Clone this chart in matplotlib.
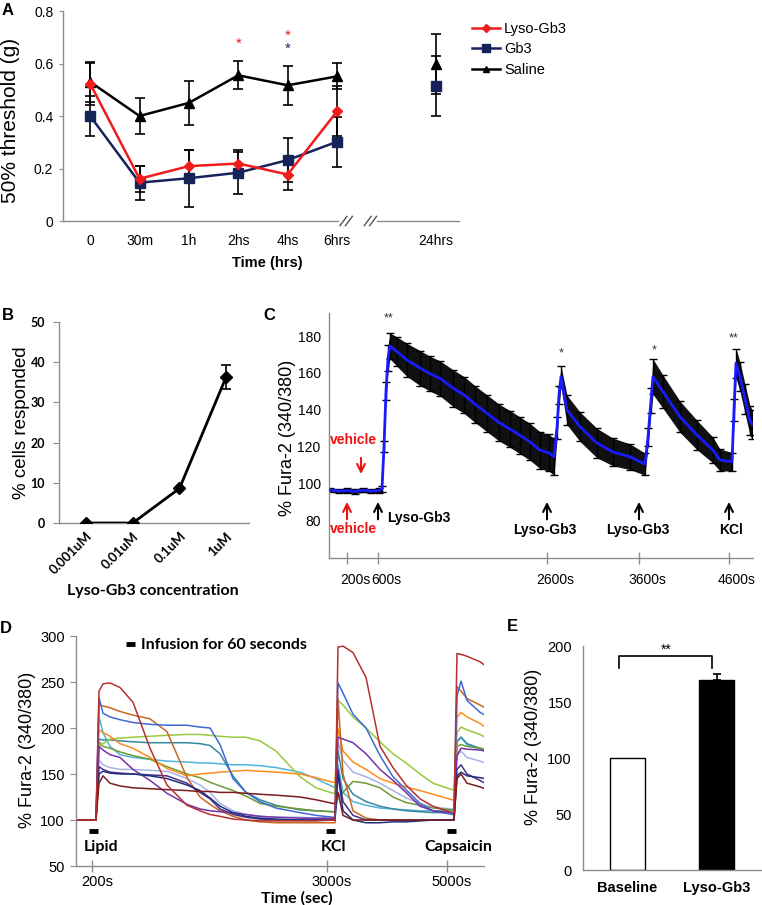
import matplotlib
matplotlib.use("Agg")
import matplotlib.pyplot as plt
from matplotlib.lines import Line2D
from matplotlib.transforms import ScaledTranslation

plt.rcParams['font.family'] = ['Liberation Sans', 'DejaVu Sans']
CAL = ['Lato', 'DejaVu Sans']   # stands in for Calibri

# ---------------- data ----------------
# A: von Frey thresholds
time_labels = ['0', '30m', '1h', '2hs', '4hs', '6hrs', '24hrs']
time_pos = [0, 1, 2, 3, 4, 5, 7]
lyso_mean = [0.523, 0.161, 0.209, 0.219, 0.177, 0.418]
lyso_err = [0.08, 0.05, 0.06, 0.05, 0.057, 0.095]
gb3_mean = [0.40, 0.146, 0.163, 0.184, 0.232, 0.302, 0.514]
gb3_err = [0.077, 0.065, 0.108, 0.08, 0.085, 0.095, 0.115]
saline_mean = [0.53, 0.40, 0.45, 0.555, 0.517, 0.551, 0.598]
saline_err = [0.075, 0.07, 0.085, 0.053, 0.074, 0.05, 0.115]

# B: responders vs concentration
conc_labels = ['0.001uM', '0.01uM', '0.1uM', '1uM']
resp_mean = [0, 0, 8.6, 36.3]
resp_err_last = 2.9

# C: mean Fura-2 trace (frame index) with SEM
c_frames = [1, 10, 18, 26, 34, 42, 50, 53, 55, 57, 59, 61, 68, 78, 91, 101, 111, 124, 135, 146,
            158, 170, 181, 191, 201, 211, 220, 225, 228, 230, 232, 238, 251, 268, 284, 301, 316, 319, 322, 324,
            334, 351, 368, 384, 391, 403, 405, 407, 411, 416, 421, 423]
c_mean = [96.3, 95.8, 96.0, 95.6, 96.2, 95.8, 96.0, 97.0, 120, 150, 168, 174.6, 171.5, 167, 162.6, 159.5, 157, 151.7, 148, 143,
          138, 133, 129.5, 126, 122.5, 118, 116.5, 114.4, 130, 148, 157.9, 139.8, 130.7, 121.8, 117, 114.4, 110.4, 125, 145, 157.9,
          149.7, 136.1, 126.2, 118, 112.6, 111.7, 140, 165.2, 157.9, 145.9, 134.1, 132]
c_err = [1.2, 1.2, 1.2, 1.2, 1.2, 1.2, 1.2, 1.5, 3, 5, 7, 7, 8, 9, 9.5, 9.5, 9.5, 10, 10, 10,
         10, 10, 10, 10, 10, 10, 10, 10, 6, 5, 5.8, 8, 8, 8, 7.5, 7, 6, 5, 7, 9.6,
         9, 8.5, 8, 7, 6, 5, 6, 8, 8, 8, 8, 8]
c_tick_frames = [18, 49, 218, 310, 400]
c_tick_labels = ['200s', '600s', '2600s', '3600s', '4600s']

# D: single-cell traces (frame index)
d_frames = [0, 20, 23, 27, 34, 44, 57, 74, 91, 111, 124, 134, 144, 157, 170, 184, 200, 224, 240, 257,
            259, 262, 267, 277, 290, 304, 317, 330, 344, 357, 376, 378, 381, 385, 391, 404, 409]
cell_lavender = [100, 100, 165, 160, 157, 155, 155, 154, 153, 145, 138, 130, 118, 110, 106, 104, 103, 103, 102, 102,
                 102, 185, 165, 152, 147, 140, 132, 124, 118, 114, 112, 112, 170, 175, 168, 164, 162]
cell_sky = [100, 100, 212, 195, 180, 171, 168, 166, 164, 163, 162, 162, 161, 160, 160, 159, 157, 152, 145, 136,
            136, 160, 130, 120, 116, 113, 112, 111, 110, 110, 110, 110, 185, 190, 182, 177, 175]
cell_teal = [100, 100, 188, 187, 187, 186, 185, 184, 184, 184, 183, 181, 172, 148, 130, 122, 116, 111, 110, 109,
             109, 175, 145, 128, 120, 115, 112, 110, 109, 108, 108, 108, 185, 190, 183, 178, 176]
cell_olive = [100, 100, 185, 180, 178, 174, 170, 166, 158, 150, 146, 141, 137, 132, 126, 118, 115, 112, 110, 109,
              109, 125, 130, 142, 140, 135, 125, 119, 116, 113, 111, 111, 180, 182, 180, 178, 177]
cell_lime = [100, 100, 180, 183, 188, 189, 190, 191, 192, 193, 193, 192, 191, 190, 190, 186, 175, 147, 135, 129,
             129, 230, 225, 212, 200, 185, 172, 162, 150, 140, 133, 133, 195, 201, 198, 193, 190]
cell_orange = [100, 100, 198, 195, 191, 183, 178, 168, 156, 148, 150, 151, 152, 153, 154, 153, 152, 150, 146, 141,
               141, 200, 175, 163, 155, 145, 140, 136, 132, 128, 122, 122, 212, 217, 212, 205, 201]
cell_brown = [100, 100, 225, 224, 222, 218, 214, 210, 196, 146, 125, 117, 110, 104, 100, 98, 97, 97, 97, 97,
              97, 232, 150, 110, 102, 100, 100, 100, 100, 100, 100, 100, 245, 240, 232, 225, 222]
cell_blue = [100, 100, 233, 216, 212, 209, 206, 204, 203, 203, 201, 200, 182, 145, 130, 120, 113, 108, 105, 103,
             103, 249, 238, 215, 200, 170, 147, 133, 118, 110, 106, 106, 235, 251, 230, 217, 214]
cell_purple = [100, 100, 180, 176, 171, 168, 155, 143, 129, 117, 112, 110, 109, 108, 106, 104, 103, 102, 102, 102,
               102, 190, 188, 184, 172, 155, 143, 130, 115, 110, 108, 108, 170, 178, 177, 176, 175]
cell_indigo = [100, 100, 158, 155, 152, 151, 150, 149, 148, 140, 130, 123, 112, 106, 103, 101, 100, 100, 100, 100,
               100, 155, 120, 105, 100, 100, 100, 100, 100, 100, 100, 100, 155, 160, 150, 143, 140]
cell_navy = [100, 100, 150, 153, 151, 150, 150, 148, 145, 138, 132, 124, 115, 108, 104, 102, 101, 100, 100, 100,
             100, 150, 110, 100, 97, 97, 98, 98, 99, 100, 100, 100, 148, 152, 148, 146, 145]
cell_maroon = [100, 100, 140, 148, 140, 137, 135, 134, 133, 132, 131, 131, 130, 130, 129, 128, 127, 125, 122, 118,
               118, 130, 105, 100, 100, 100, 100, 100, 100, 100, 100, 100, 145, 150, 140, 136, 134]
cell_red = [100, 100, 240, 248, 249, 244, 228, 178, 138, 116, 110, 106, 104, 101, 100, 99, 99, 99, 99, 100,
            100, 288, 289, 282, 255, 180, 157, 138, 123, 115, 108, 108, 281, 280, 278, 272, 268]
d_tick_frames = [16, 251, 371]
d_tick_labels = ['200s', '3000s', '5000s']

# E: peak response
e_labels = ['Baseline', 'Lyso-Gb3']
e_mean = [100, 170]
e_err = [0, 5]

# ---------------- layout helpers ----------------
W, H = 762, 905
fig = plt.figure(figsize=(W / 100, H / 100), dpi=100)
GRAY = '#8c8c8c'


def box(l, t, r, b):
    return [l / W, 1 - b / H, (r - l) / W, (b - t) / H]


def ftext(x, y, s, **kw):
    return fig.text(x / W, 1 - y / H, s, **kw)


def style(ax):
    for s in ('top', 'right'):
        ax.spines[s].set_visible(False)
    for s in ('left', 'bottom'):
        ax.spines[s].set_color(GRAY)
        ax.spines[s].set_linewidth(1.0)
    ax.tick_params(colors=GRAY, labelcolor='black')


def shift_xlabels(ax, dx):
    off = ScaledTranslation(dx / 100, 0, fig.dpi_scale_trans)
    for lab in ax.get_xticklabels():
        lab.set_transform(lab.get_transform() + off)


# ---------------- A ----------------
axA = fig.add_axes(box(63, 11, 459, 221))
style(axA)
axA.spines['bottom'].set_visible(False)
red, navy = '#f01c1c', '#16235a'
ek = dict(fmt='none', ecolor='black', elinewidth=1.2, capsize=3.5, capthick=1.2, zorder=2)
axA.errorbar(time_pos, saline_mean, yerr=saline_err, **ek)
axA.errorbar(time_pos, gb3_mean, yerr=gb3_err, **ek)
axA.errorbar(time_pos[:6], lyso_mean, yerr=lyso_err, **ek)
axA.plot(time_pos[:6], saline_mean[:6], color='black', lw=1.8, marker='^', ms=7, zorder=3)
axA.plot(time_pos[6:], saline_mean[6:], color='black', marker='^', ms=7, zorder=3)
axA.plot(time_pos[:6], gb3_mean[:6], color=navy, lw=1.8, marker='s', ms=7.5, zorder=3)
axA.plot(time_pos[6:], gb3_mean[6:], color=navy, marker='s', ms=7.5, zorder=3)
axA.plot(time_pos[:6], lyso_mean, color=red, lw=1.8, marker='D', ms=5.5, zorder=4)
axA.set_xlim(-0.55, 7.47)
axA.set_ylim(0, 0.8)
axA.set_yticks([0, 0.2, 0.4, 0.6, 0.8])
axA.set_yticklabels(['0', '0.2', '0.4', '0.6', '0.8'], fontsize=10)
axA.set_xticks(time_pos)
axA.set_xticklabels(time_labels, fontsize=10)
axA.tick_params(axis='x', length=0, pad=9)
axA.tick_params(axis='y', length=3, pad=4)
tr = axA.get_xaxis_transform()
for x0, x1 in ((-0.55, 5.02), (5.80, 7.47)):
    axA.plot([x0, x1], [0, 0], transform=tr, color=GRAY, lw=1, clip_on=False)
for xs in (5.06, 5.17, 5.55, 5.66):
    axA.plot([xs, xs + 0.14], [-0.022, 0.022], transform=tr, color='#555555', lw=1, clip_on=False)
axA.text(3, 0.675, '*', color=red, ha='center', va='center', fontsize=11)
axA.text(4, 0.707, '*', color=red, ha='center', va='center', fontsize=11)
axA.text(4, 0.657, '*', color=navy, ha='center', va='center', fontsize=11)
handles = [Line2D([], [], color=red, lw=1.8, marker='D', ms=4),
           Line2D([], [], color=navy, lw=1.8, marker='s', ms=5.5),
           Line2D([], [], color='black', lw=1.8, marker='^', ms=5)]
fig.legend(handles, ['Lyso-Gb3', 'Gb3', 'Saline'], loc='upper left',
           bbox_to_anchor=(466 / W, 1 - 16 / H), frameon=False, fontsize=10.5,
           handlelength=1.9, handletextpad=0.3, labelspacing=0.45, borderaxespad=0)
ftext(11, 120, '50% threshold (g)', rotation=90, ha='center', va='center', fontsize=15)
ftext(267, 263, 'Time (hrs)', ha='center', va='center', fontsize=10.5, fontweight='bold')

# ---------------- B ----------------
axB = fig.add_axes(box(59, 322, 249, 523))
style(axB)
xb = list(range(len(conc_labels)))
axB.plot(xb, resp_mean, color='black', lw=2, marker='D', ms=6.5, zorder=3)
axB.errorbar(xb[-1:], resp_mean[-1:], yerr=resp_err_last, fmt='none', ecolor='black',
             elinewidth=1.2, capsize=3.5, capthick=1.2)
axB.set_xlim(-0.58, 3.49)
axB.set_ylim(0, 50)
axB.set_yticks(range(0, 51, 10))
axB.set_yticklabels([str(v) for v in range(0, 51, 10)], fontsize=9, fontweight='bold', family=CAL)
axB.set_xticks(xb)
axB.set_xticklabels(conc_labels, fontsize=9.5, fontweight='bold', family=CAL,
                    rotation=45, ha='right', rotation_mode='anchor')
axB.tick_params(axis='x', length=0, pad=5)
axB.tick_params(axis='y', length=4, pad=6)
ftext(22, 423, '% cells responded', rotation=90, ha='center', va='center', fontsize=13.5)
ftext(153, 591, 'Lyso-Gb3 concentration', ha='center', va='center', fontsize=11.5,
      fontweight='bold', family=CAL)

# ---------------- C ----------------
axC = fig.add_axes(box(329, 313, 753, 558))
style(axC)
lo = [m - e for m, e in zip(c_mean, c_err)]
hi = [m + e for m, e in zip(c_mean, c_err)]
axC.fill_between(c_frames, lo, hi, color='#111111', lw=0, zorder=1)
axC.errorbar(c_frames, c_mean, yerr=c_err, fmt='none', ecolor='black', elinewidth=1,
             capsize=3, capthick=1, zorder=2)
axC.plot(c_frames, c_mean, color='#1a1aff', lw=2, zorder=3)
axC.set_xlim(0, 424)
axC.set_ylim(59.4, 192.5)
axC.set_yticks(range(80, 181, 20))
axC.set_yticklabels([str(v) for v in range(80, 181, 20)], fontsize=10)
axC.tick_params(axis='y', length=0, pad=6)
axC.set_xticks(c_tick_frames)
axC.set_xticklabels(c_tick_labels, fontsize=10)
axC.tick_params(axis='x', direction='inout', length=9, width=1, pad=6)
shift_xlabels(axC, 8)
ak = dict(arrowstyle='->', lw=1.5, mutation_scale=14)
for f in (49, 218, 310, 400):
    axC.annotate('', xy=(f, 91.4), xytext=(f, 78.9), arrowprops=dict(color='black', **ak))
axC.annotate('', xy=(18, 91.4), xytext=(18, 78.9), arrowprops=dict(color='#ee1111', **ak))
axC.annotate('', xy=(32, 103.5), xytext=(32, 115.3), arrowprops=dict(color='#ee1111', **ak))
bk = dict(fontsize=10, fontweight='bold', va='center')
axC.text(25, 75.2, 'vehicle', color='#ee1111', ha='center', **bk)
axC.text(25, 123.5, 'vehicle', color='#ee1111', ha='center', **bk)
axC.text(57.7, 80.9, 'Lyso-Gb3', ha='left', **bk)
axC.text(216, 74.6, 'Lyso-Gb3', ha='center', **bk)
axC.text(309, 74.6, 'Lyso-Gb3', ha='center', **bk)
axC.text(401.7, 74.6, 'KCl', ha='center', **bk)
for f, y, s in ((59.3, 189.8, '**'), (232, 170.8, '*'), (325.3, 172.4, '*'), (404.3, 178.9, '**')):
    axC.text(f, y, s, ha='center', va='center', fontsize=9, color='#333333')
ftext(288, 438, '% Fura-2 (340/380)', rotation=90, ha='center', va='center', fontsize=13)

# ---------------- D ----------------
axD = fig.add_axes(box(76, 636, 484, 866))
style(axD)
traces = [(cell_lavender, '#a6b4e6'), (cell_sky, '#4fb3d9'), (cell_teal, '#35889e'),
          (cell_olive, '#6e9a35'), (cell_lime, '#97c93d'), (cell_orange, '#ff8a1c'),
          (cell_brown, '#c8681e'), (cell_blue, '#3c6bd6'), (cell_purple, '#7433a6'),
          (cell_indigo, '#4b2e8a'), (cell_navy, '#20307a'), (cell_maroon, '#7b1c1c'),
          (cell_red, '#b5302f')]
for vals, col in traces:
    axD.plot(d_frames, vals, color=col, lw=1.1)
axD.set_xlim(0, 408)
axD.set_ylim(50, 300)
axD.set_yticks(range(50, 301, 50))
axD.set_yticklabels([str(v) for v in range(50, 301, 50)], fontsize=10.5)
axD.tick_params(axis='y', length=4, pad=4)
axD.set_xticks(d_tick_frames)
axD.set_xticklabels(d_tick_labels, fontsize=10.5)
axD.tick_params(axis='x', direction='inout', length=9, width=1, pad=2)
shift_xlabels(axD, 5)
for f0, f1 in ((13, 22), (250, 259), (371, 380)):
    axD.plot([f0, f1], [88, 88], color='black', lw=3.5, solid_capstyle='butt')
axD.plot([50, 59], [291, 291], color='black', lw=3.5, solid_capstyle='butt')
dk = dict(fontsize=11.5, fontweight='bold', family=CAL, va='center')
axD.text(65, 290, 'Infusion for 60 seconds', ha='left', **dk)
axD.text(24.7, 71, 'Lipid', ha='center', **dk)
axD.text(257, 71, 'KCl', ha='center', **dk)
axD.text(348, 71, 'Capsaicin', ha='left', **dk)
ftext(28, 750, '% Fura-2 (340/380)', rotation=90, ha='center', va='center', fontsize=13)
ftext(297, 898, 'Time (sec)', ha='center', va='center', fontsize=11.5, fontweight='bold', family=CAL)

# ---------------- E ----------------
axE = fig.add_axes(box(583, 646, 761, 870))
style(axE)
xe = [0, 1]
axE.bar(xe, e_mean, width=0.4, color=['white', 'black'], edgecolor='black', lw=1)
axE.errorbar(xe[1:], e_mean[1:], yerr=[[0], e_err[1:]], fmt='none', ecolor='black',
             elinewidth=1.2, capsize=3, capthick=1.2)
axE.set_xlim(-0.5, 1.5)
axE.set_ylim(0, 200)
axE.set_yticks(range(0, 201, 50))
axE.set_yticklabels([str(v) for v in range(0, 201, 50)], fontsize=10.5)
axE.tick_params(axis='y', length=0, pad=8)
axE.set_xticks(xe)
axE.set_xticklabels(e_labels, fontsize=10.5, fontweight='bold')
axE.tick_params(axis='x', length=0, pad=8)
axE.plot([-0.09, -0.09, 0.95, 0.95], [180, 191, 191, 180], color='black', lw=1.2,
         solid_joinstyle='round')
axE.text(0.43, 197, '**', ha='center', va='center', fontsize=10)
ftext(533, 747, '% Fura-2 (340/380)', rotation=90, ha='center', va='center', fontsize=13)

# ---------------- panel letters ----------------
for x, y, s in ((2, 3, 'A'), (2, 308, 'B'), (263, 308, 'C'), (0, 621, 'D'), (507, 619, 'E')):
    ftext(x, y, s, ha='left', va='top', fontsize=12, fontweight='bold')

fig.savefig('out.png', dpi=100)
